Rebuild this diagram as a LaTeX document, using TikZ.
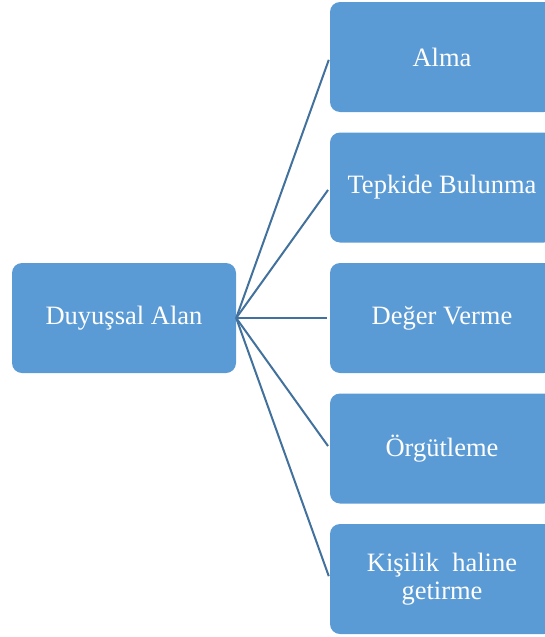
\documentclass[tikz,border=0pt]{standalone}
\usepackage{fontspec}
\setmainfont{Liberation Serif}
\definecolor{kutumavi}{HTML}{5B9BD5}
\definecolor{cizgimavi}{HTML}{41719C}
\begin{document}
\begin{tikzpicture}[x=1pt, y=-1pt,
    kutu/.style={fill=kutumavi, rounded corners=10pt, minimum width=224pt, minimum height=110pt,
        text=white, align=center, inner sep=0pt,
        font=\fontsize{26.5}{28}\selectfont},
    bag/.style={draw=cizgimavi, line width=2pt, shorten >=3pt}]
        \useasboundingbox (0, 0) rectangle (545, 637);
        \node [kutu] (duyussal) at (124, 318) {Duyuşsal Alan};
        \node [kutu] (alma) at (442, 57) {Alma};
        \node [kutu] (tepkide) at (442, 187.5) {Tepkide Bulunma};
        \node [kutu] (deger) at (442, 318) {Değer Verme};
        \node [kutu] (orgutleme) at (442, 448.5) {Örgütleme};
        \node [kutu] (kisilik) at (442, 579) {Kişilik\ \ haline\\getirme};
        \draw [bag] (duyussal.east) -- (alma.west);
        \draw [bag] (duyussal.east) -- (tepkide.west);
        \draw [bag] (duyussal.east) -- (deger.west);
        \draw [bag] (duyussal.east) -- (orgutleme.west);
        \draw [bag] (duyussal.east) -- (kisilik.west);
    \end{tikzpicture}
\end{document}
